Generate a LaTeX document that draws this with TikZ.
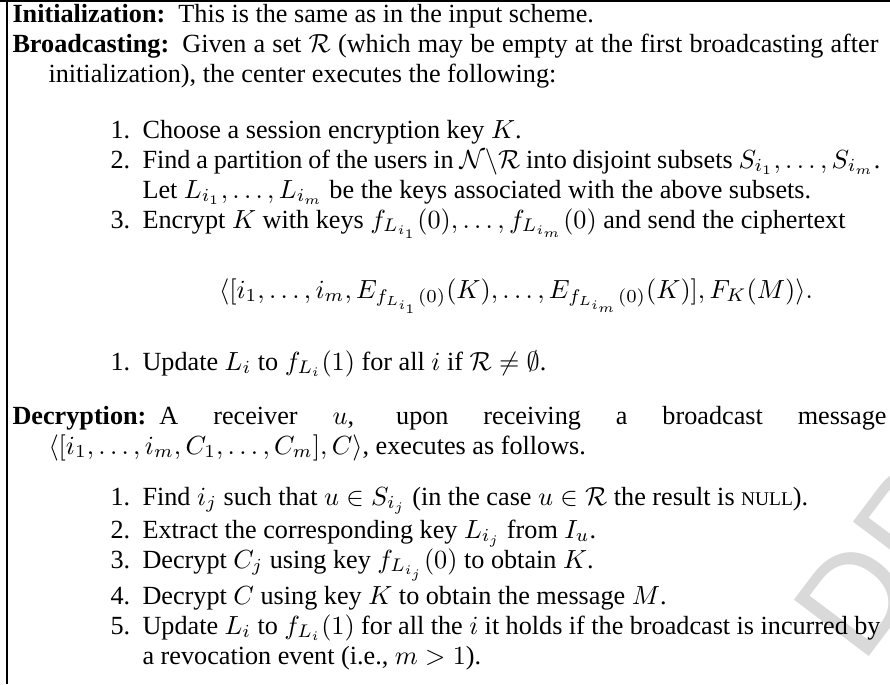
\documentclass[tikz,border=0pt]{standalone}
\usepackage{amsmath,amssymb}
\usepackage[no-math]{fontspec}
\setmainfont{Liberation Serif}
\setsansfont{Liberation Sans}

\newdimen\pxu
\pxu=0.3817pt
% spread a full line of a justified paragraph
\newcommand{\fillto}[2]{\makebox[#1\pxu][s]{#2}}
% run-in heading, fixed gap after it
\newcommand{\head}[1]{\textbf{#1}\hspace{5pt}}

\begin{document}
\begin{tikzpicture}[x=0.3817pt,y=-0.3817pt,
  every node/.style={inner sep=0pt,anchor=base west,font=\fontsize{10}{12}\selectfont},
  frame/.style={line width=0.8pt},
  draftmark/.style={text=black!15,font=\fontsize{52}{60}\selectfont\sffamily,rotate=53}]
\useasboundingbox (0,0) rectangle (890,684);

% watermark in the corner
\begin{scope}
\clip (0,0) rectangle (890,684);
\node[draftmark] (draft) at (862,666) {DR};
\end{scope}

% box edges
\draw[frame] (0,1) -- (890,1);
\draw[frame] (7,0) -- (7,684);

\node (init) at (12,22) {\head{Initialization:}This is the same as in the input scheme.};
\node (bcast) at (12,52) {\fillto{866}{\head{Broadcasting:}Given a set $\mathcal{R}$ (which may be empty at the first broadcasting after}};
\node (bcastb) at (48,82) {initialization), the center executes the following:};

\node (n1) at (110,138) {1.};
\node (choose) at (142,138) {Choose a session encryption key $K$.};
\node (n2) at (110,168) {2.};
\node (part) at (142,168) {\fillto{738}{Find a partition of the users in $\mathcal{N}\backslash\mathcal{R}$ into disjoint subsets $S_{i_1},\dots,S_{i_m}$.}};
\node (partb) at (142,198) {Let $L_{i_1},\dots,L_{i_m}$ be the keys associated with the above subsets.};
\node (n3) at (110,228) {3.};
\node (enc) at (142,228) {Encrypt $K$ with keys $f_{L_{i_1}}(0),\dots,f_{L_{i_m}}(0)$ and send the ciphertext};
\node[anchor=base] (ctext) at (516,298) {$\displaystyle\langle[i_1,\dots,i_m,E_{f_{L_{i_1}}(0)}(K),\dots,E_{f_{L_{i_m}}(0)}(K)],F_K(M)\rangle.$};
\node (n4) at (110,370) {1.};
\node (upd) at (142,370) {Update $L_i$ to $f_{L_i}(1)$ for all $i$ if $\mathcal{R}\neq\emptyset$.};

\node (dec) at (12,424) {\fillto{874}{\head{Decryption:}A receiver $u$, upon receiving a broadcast message}};
\node (decb) at (48,454) {$\langle[i_1,\dots,i_m,C_1,\dots,C_m],C\rangle$, executes as follows.};

\node (m1) at (110,505) {1.};
\node (find) at (142,505) {Find $i_j$ such that $u\in S_{i_j}$ (in the case $u\in\mathcal{R}$ the result is {\fontsize{7.4}{9}\selectfont NULL}).};
\node (m2) at (110,538) {2.};
\node (extr) at (142,538) {Extract the corresponding key $L_{i_j}$ from $I_u$.};
\node (m3) at (110,568) {3.};
\node (decj) at (142,568) {Decrypt $C_j$ using key $f_{L_{i_j}}(0)$ to obtain $K$.};
\node (m4) at (110,604) {4.};
\node (decc) at (142,604) {Decrypt $C$ using key $K$ to obtain the message $M$.};
\node (m5) at (110,634) {5.};
\node (upd2) at (142,634) {\fillto{738}{Update $L_i$ to $f_{L_i}(1)$ for all the $i$ it holds if the broadcast is incurred by}};
\node (upd2b) at (142,664) {a revocation event (i.e., $m>1$).};
\end{tikzpicture}
\end{document}
